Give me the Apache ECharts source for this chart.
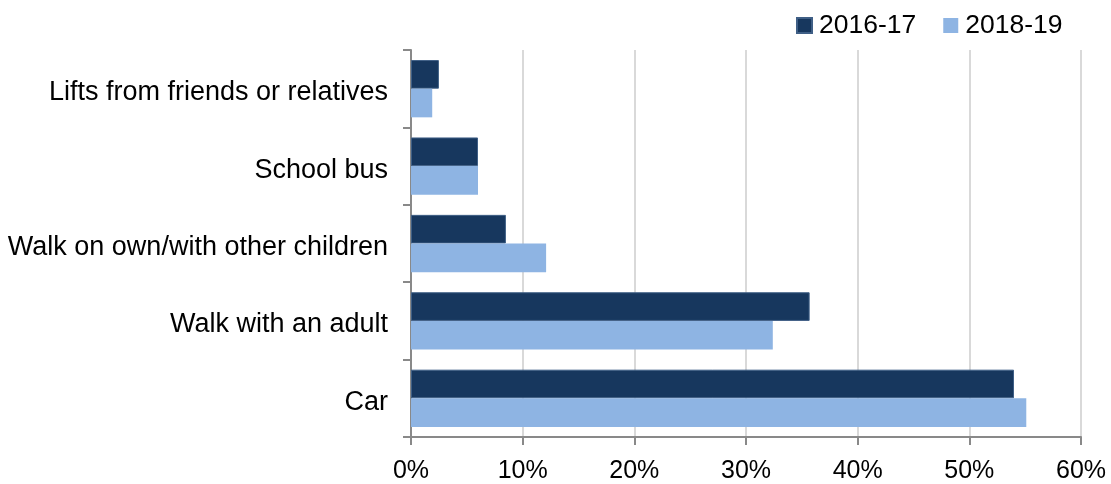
<!DOCTYPE html>
<html>
<head>
<meta charset="utf-8">
<script src="https://cdn.jsdelivr.net/npm/echarts@6/dist/echarts.min.js"></script>
<style>
html, body { margin: 0; padding: 0; background: #fff; }
#chart { width: 1111px; height: 484px; }
</style>
</head>
<body>
<div id="chart"></div>
<script>
// categories listed top to bottom
const categories = ['Lifts from friends or relatives', 'School bus', 'Walk on own/with other children', 'Walk with an adult', 'Car'];
const seriesNames = ['2016-17', '2018-19'];
const values2016 = [2.5, 6.0, 8.5, 35.7, 54.0];
const values2018 = [1.9, 6.0, 12.1, 32.4, 55.1];
const xTicks = [0, 10, 20, 30, 40, 50, 60];

const font = 'Liberation Sans, Arial, sans-serif';
const axisGray = '#898989';

const myChart = echarts.init(document.getElementById('chart'));
const option = {
	animation: false,
	textStyle: { fontFamily: font, color: '#000' },
	legend: {
		left: 796,
		top: 12,
		padding: 0,
		itemWidth: 15,
		itemHeight: 15,
		itemGap: 27,
		icon: 'rect',
		textStyle: { fontSize: 26.5, color: '#000', fontFamily: font, padding: [0, 0, 0, 2] },
		data: seriesNames
	},
	grid: {
		left: 411,
		right: 30,
		top: 50,
		bottom: 46,
		containLabel: false
	},
	xAxis: {
		type: 'value',
		min: xTicks[0],
		max: xTicks[xTicks.length - 1],
		interval: 10,
		axisLine: { show: true, lineStyle: { color: axisGray, width: 2 } },
		axisTick: { show: true, length: 8, lineStyle: { color: axisGray, width: 2 } },
		axisLabel: {
			formatter: '{value}%',
			fontSize: 25,
			color: '#000',
			fontFamily: font,
			margin: 22
		},
		splitLine: { show: true, lineStyle: { color: '#d9d9d9', width: 2 } }
	},
	yAxis: {
		type: 'category',
		inverse: true,
		data: categories,
		axisLine: { show: true, lineStyle: { color: axisGray, width: 2 } },
		axisTick: { show: true, length: 8, lineStyle: { color: axisGray, width: 2 } },
		axisLabel: {
			color: '#000',
			margin: 23,
			formatter: (v) => '{c|' + v + '}',
			rich: {
				c: { fontSize: 27, color: '#000', fontFamily: font, padding: [8, 0, 0, 0] }
			}
		}
	},
	series: [{
		name: seriesNames[0],
		type: 'bar',
		data: values2016,
		barGap: '0%',
		barCategoryGap: '26%',
		itemStyle: { color: '#17375e', borderColor: '#3f5f86', borderWidth: 1 }
	}, {
		name: seriesNames[1],
		type: 'bar',
		data: values2018,
		barGap: '0%',
		barCategoryGap: '26%',
		itemStyle: { color: '#8eb4e3' }
	}]
};
myChart.setOption(option);
</script>
</body>
</html>
